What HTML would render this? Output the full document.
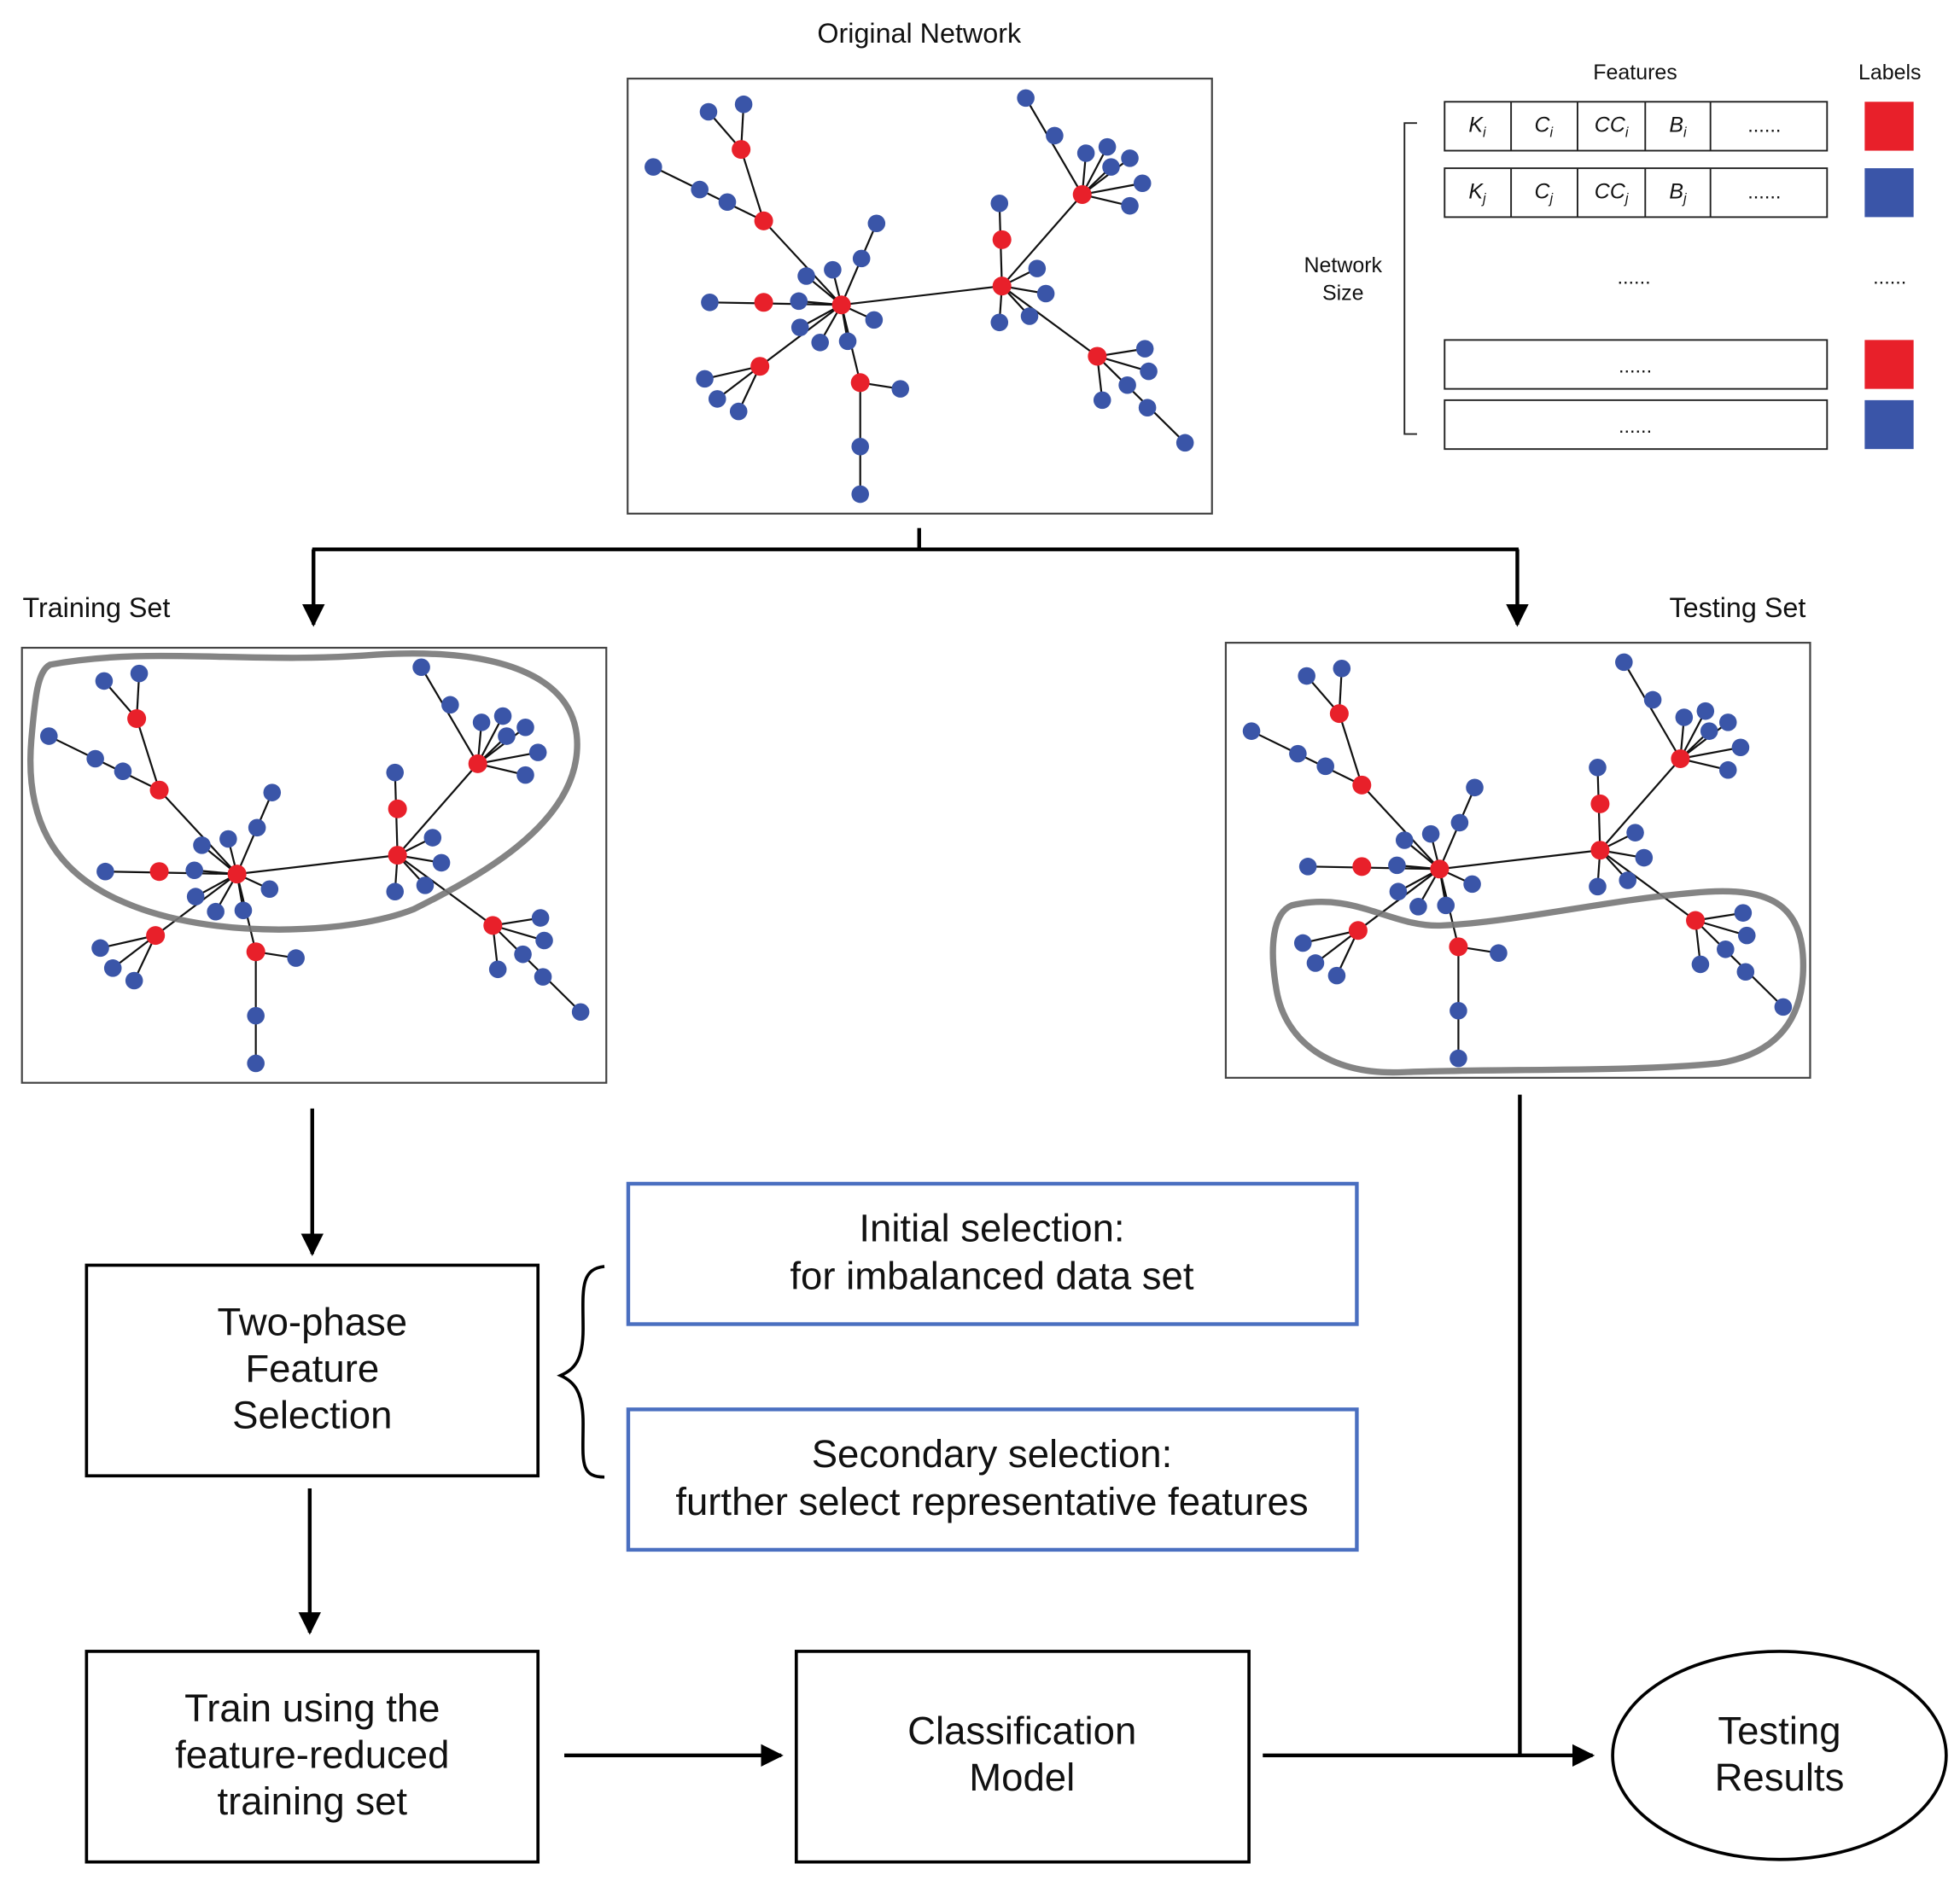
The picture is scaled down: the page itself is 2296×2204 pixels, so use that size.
<!DOCTYPE html>
<html><head><meta charset="utf-8"><style>
html,body{margin:0;padding:0;background:#fff}
svg{display:block}
text{font-family:"Liberation Sans",sans-serif;fill:#111}
</style></head><body>
<svg width="2296" height="2204" viewBox="0 0 1563 1500" xmlns="http://www.w3.org/2000/svg">
<defs>
<marker id="ah" viewBox="0 0 10 10" refX="9" refY="5" markerWidth="6" markerHeight="6" orient="auto"><path d="M0,0 L10,5 L0,10 z" fill="#000"/></marker>
<g id="net">
<g stroke="#111" stroke-width="1.5" fill="none">
<line x1="591" y1="119" x2="565" y2="89"/><line x1="591" y1="119" x2="593" y2="83"/>
<line x1="591" y1="119" x2="609" y2="176"/><line x1="609" y1="176" x2="671" y2="243"/>
<line x1="521" y1="133" x2="609" y2="176"/>
<line x1="566" y1="241" x2="671" y2="243"/>
<line x1="671" y1="243" x2="643" y2="220"/><line x1="671" y1="243" x2="664" y2="215"/>
<line x1="671" y1="243" x2="699" y2="178"/><line x1="671" y1="243" x2="637" y2="240"/>
<line x1="671" y1="243" x2="638" y2="261"/><line x1="671" y1="243" x2="654" y2="273"/>
<line x1="671" y1="243" x2="676" y2="272"/><line x1="671" y1="243" x2="697" y2="255"/>
<line x1="671" y1="243" x2="606" y2="292"/><line x1="606" y1="292" x2="562" y2="302"/>
<line x1="606" y1="292" x2="572" y2="318"/><line x1="606" y1="292" x2="589" y2="328"/>
<line x1="671" y1="243" x2="686" y2="305"/><line x1="686" y1="305" x2="718" y2="310"/>
<line x1="686" y1="305" x2="686" y2="394"/>
<line x1="671" y1="243" x2="799" y2="228"/>
<line x1="799" y1="228" x2="797" y2="162"/>
<line x1="799" y1="228" x2="827" y2="214"/><line x1="799" y1="228" x2="834" y2="234"/>
<line x1="799" y1="228" x2="821" y2="252"/><line x1="799" y1="228" x2="797" y2="257"/>
<line x1="799" y1="228" x2="863" y2="155"/>
<line x1="863" y1="155" x2="818" y2="78"/>
<line x1="863" y1="155" x2="866" y2="122"/><line x1="863" y1="155" x2="883" y2="117"/>
<line x1="863" y1="155" x2="901" y2="126"/><line x1="863" y1="155" x2="911" y2="146"/>
<line x1="863" y1="155" x2="901" y2="164"/><line x1="863" y1="155" x2="886" y2="133"/>
<line x1="799" y1="228" x2="875" y2="284"/>
<line x1="875" y1="284" x2="913" y2="278"/><line x1="875" y1="284" x2="916" y2="296"/>
<line x1="875" y1="284" x2="879" y2="319"/><line x1="875" y1="284" x2="945" y2="353"/>
</g>
<g fill="#3a55a8">
<circle cx="565" cy="89" r="7"/><circle cx="593" cy="83" r="7"/>
<circle cx="521" cy="133" r="7"/><circle cx="558" cy="151" r="7"/><circle cx="580" cy="161" r="7"/>
<circle cx="566" cy="241" r="7"/>
<circle cx="643" cy="220" r="7"/><circle cx="664" cy="215" r="7"/><circle cx="687" cy="206" r="7"/><circle cx="699" cy="178" r="7"/>
<circle cx="637" cy="240" r="7"/><circle cx="638" cy="261" r="7"/><circle cx="654" cy="273" r="7"/><circle cx="676" cy="272" r="7"/><circle cx="697" cy="255" r="7"/>
<circle cx="562" cy="302" r="7"/><circle cx="572" cy="318" r="7"/><circle cx="589" cy="328" r="7"/>
<circle cx="718" cy="310" r="7"/><circle cx="686" cy="356" r="7"/><circle cx="686" cy="394" r="7"/>
<circle cx="797" cy="162" r="7"/><circle cx="827" cy="214" r="7"/><circle cx="834" cy="234" r="7"/><circle cx="821" cy="252" r="7"/><circle cx="797" cy="257" r="7"/>
<circle cx="818" cy="78" r="7"/><circle cx="841" cy="108" r="7"/><circle cx="866" cy="122" r="7"/><circle cx="883" cy="117" r="7"/><circle cx="901" cy="126" r="7"/><circle cx="911" cy="146" r="7"/><circle cx="901" cy="164" r="7"/><circle cx="886" cy="133" r="7"/>
<circle cx="913" cy="278" r="7"/><circle cx="916" cy="296" r="7"/><circle cx="899" cy="307" r="7"/><circle cx="879" cy="319" r="7"/><circle cx="915" cy="325" r="7"/><circle cx="945" cy="353" r="7"/>
</g>
<g fill="#e8202a">
<circle cx="591" cy="119" r="7.5"/><circle cx="609" cy="176" r="7.5"/><circle cx="609" cy="241" r="7.5"/>
<circle cx="671" cy="243" r="7.5"/><circle cx="606" cy="292" r="7.5"/><circle cx="686" cy="305" r="7.5"/>
<circle cx="799" cy="191" r="7.5"/><circle cx="799" cy="228" r="7.5"/><circle cx="863" cy="155" r="7.5"/><circle cx="875" cy="284" r="7.5"/>
</g>
</g>
</defs>

<!-- Original network -->
<text x="733" y="34" font-size="22" text-anchor="middle">Original Network</text>
<rect x="500.5" y="62.5" width="466" height="347" fill="none" stroke="#444" stroke-width="1.5"/>
<use href="#net"/>

<!-- Table -->
<text x="1304" y="63" font-size="17" text-anchor="middle">Features</text>
<text x="1507" y="63" font-size="17" text-anchor="middle">Labels</text>
<g fill="none" stroke="#222" stroke-width="1.3">
<rect x="1152" y="81" width="305" height="39"/><rect x="1152" y="134" width="305" height="39"/>
<line x1="1205" y1="81" x2="1205" y2="120"/><line x1="1258" y1="81" x2="1258" y2="120"/><line x1="1312" y1="81" x2="1312" y2="120"/><line x1="1364" y1="81" x2="1364" y2="120"/>
<line x1="1205" y1="134" x2="1205" y2="173"/><line x1="1258" y1="134" x2="1258" y2="173"/><line x1="1312" y1="134" x2="1312" y2="173"/><line x1="1364" y1="134" x2="1364" y2="173"/>
<rect x="1152" y="271" width="305" height="39"/><rect x="1152" y="319" width="305" height="39"/>
<path d="M1130,98 L1120,98 L1120,346 L1130,346"/>
</g>
<g font-family="Liberation Serif" font-style="italic" font-size="17" text-anchor="middle">
<text x="1178" y="105" font-family="Liberation Serif">K<tspan font-size="11" dy="4">i</tspan></text>
<text x="1231" y="105" font-family="Liberation Serif">C<tspan font-size="11" dy="4">i</tspan></text>
<text x="1285" y="105" font-family="Liberation Serif">CC<tspan font-size="11" dy="4">i</tspan></text>
<text x="1338" y="105" font-family="Liberation Serif">B<tspan font-size="11" dy="4">i</tspan></text>
<text x="1178" y="158" font-family="Liberation Serif">K<tspan font-size="11" dy="4">j</tspan></text>
<text x="1231" y="158" font-family="Liberation Serif">C<tspan font-size="11" dy="4">j</tspan></text>
<text x="1285" y="158" font-family="Liberation Serif">CC<tspan font-size="11" dy="4">j</tspan></text>
<text x="1338" y="158" font-family="Liberation Serif">B<tspan font-size="11" dy="4">j</tspan></text>
</g>
<g font-size="16" text-anchor="middle">
<text x="1407" y="105">......</text><text x="1407" y="158">......</text>
<text x="1303" y="226">......</text><text x="1507" y="226">......</text>
<text x="1304" y="297">......</text><text x="1304" y="345">......</text>
<text x="1071" y="217" font-size="17">Network</text><text x="1071" y="239" font-size="17">Size</text>
</g>
<rect x="1487" y="81" width="39" height="39" fill="#e8202a"/>
<rect x="1487" y="134" width="39" height="39" fill="#3a55a8"/>
<rect x="1487" y="271" width="39" height="39" fill="#e8202a"/>
<rect x="1487" y="319" width="39" height="39" fill="#3a55a8"/>

<!-- Split arrows -->
<g stroke="#000" stroke-width="3" fill="none">
<line x1="733" y1="421" x2="733" y2="438"/>
<line x1="249" y1="438" x2="1211" y2="438"/>
<line x1="250" y1="438" x2="250" y2="498" marker-end="url(#ah)"/>
<line x1="1210" y1="438" x2="1210" y2="498" marker-end="url(#ah)"/>
</g>
<text x="18" y="492" font-size="22">Training Set</text>
<text x="1440" y="492" font-size="22" text-anchor="end">Testing Set</text>

<!-- Training -->
<rect x="17.5" y="516.5" width="466" height="347" fill="none" stroke="#444" stroke-width="1.5"/>
<use href="#net" transform="translate(-482,454)"/>
<path d="M40,530 C120,515 200,530 300,522 C400,516 465,540 460,600 C455,660 380,700 330,725 C280,745 170,750 100,720 C40,695 20,650 25,590 C28,555 30,535 40,530 Z" fill="none" stroke="#777" stroke-width="5" opacity="0.9"/>

<!-- Testing -->
<rect x="977.5" y="512.5" width="466" height="347" fill="none" stroke="#444" stroke-width="1.5"/>
<use href="#net" transform="translate(477,450)"/>
<path d="M1030,722 C1080,710 1110,740 1150,738 C1210,735 1280,718 1350,712 C1410,706 1438,720 1438,770 C1438,810 1420,840 1370,848 C1300,855 1200,852 1120,855 C1060,858 1025,830 1018,790 C1012,755 1015,728 1030,722 Z" fill="none" stroke="#777" stroke-width="5" opacity="0.9"/>

<!-- Flow -->
<g stroke="#000" stroke-width="3" fill="none">
<line x1="249" y1="884" x2="249" y2="1000" marker-end="url(#ah)"/>
<line x1="247" y1="1187" x2="247" y2="1302" marker-end="url(#ah)"/>
<line x1="450" y1="1400" x2="623" y2="1400" marker-end="url(#ah)"/>
<line x1="1007" y1="1400" x2="1270" y2="1400" marker-end="url(#ah)"/>
<line x1="1212" y1="873" x2="1212" y2="1400"/>
</g>
<g fill="#fff" stroke="#000" stroke-width="2.5">
<rect x="69" y="1009" width="360" height="168"/>
<rect x="69" y="1317" width="360" height="168"/>
<rect x="635" y="1317" width="361" height="168"/>
<ellipse cx="1419" cy="1400" rx="133" ry="83"/>
</g>
<g fill="#fff" stroke="#4a6fc0" stroke-width="3">
<rect x="501" y="944" width="581" height="112"/>
<rect x="501" y="1124" width="581" height="112"/>
</g>
<path d="M482,1010 C462,1012 465,1030 465,1060 C465,1085 458,1092 447,1097 C458,1102 465,1110 465,1135 C465,1165 462,1178 482,1178" fill="none" stroke="#000" stroke-width="2.5"/>
<g font-size="31" text-anchor="middle">
<text x="249" y="1065">Two-phase</text><text x="249" y="1102">Feature</text><text x="249" y="1139">Selection</text>
<text x="249" y="1373">Train using the</text><text x="249" y="1410">feature-reduced</text><text x="249" y="1447">training set</text>
<text x="815" y="1391">Classification</text><text x="815" y="1428">Model</text>
<text x="1419" y="1391">Testing</text><text x="1419" y="1428">Results</text>
<text x="791" y="990">Initial selection:</text><text x="791" y="1028">for imbalanced data set</text>
<text x="791" y="1170">Secondary selection:</text><text x="791" y="1208">further select representative features</text>
</g>
</svg>
</body></html>
